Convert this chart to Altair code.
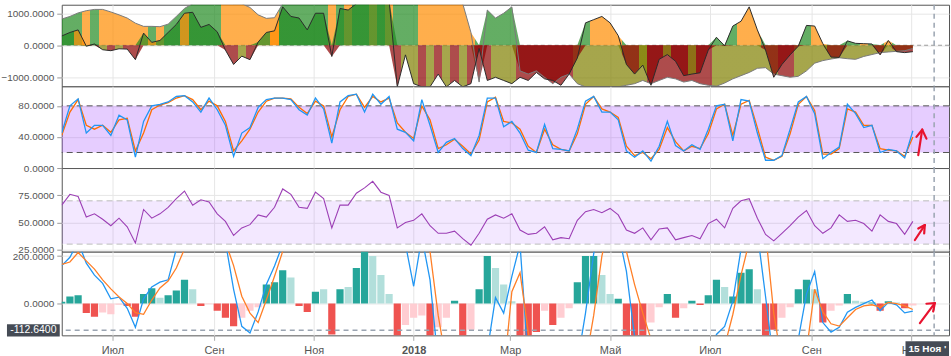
import altair as alt
import pandas as pd

# ---------------- time grid ----------------
START = "2017-05-31"
STEP = "5D"
N = 105
X_MIN = "2017-05-31 00:00"
X_MAX = "2018-11-24 02:00"
CROSS = "2018-11-15"
CROSS_LABEL = "15 Ноя '18"
ARROW_BASE = "2018-11-01"
TICK_START, TICK_END = "2017-07-01", "2018-11-01"
MONTHS_RU = ["Янв", "Фев", "Мар", "Апр", "Май", "Июн", "Июл", "Авг", "Сен", "Окт", "Ноя", "Дек"]

# ---------------- pane 1: two oscillator areas ----------------
osc_a = [820, 900, 1010, 1080, 1120, 1120, 1040, 950, 850, 690,
         590, 590, 580, 660, 900, 1150, 1300, 1350, 1400, 1400,
         1350, 1300, 1300, 1180, 950, 840, 860, 1300, 1400, 1400,
         1400, 1400, 1400, 1400, 1400, 1400, 1400, 1400, 1400, 1400,
         1400, 1400, 1400, 1400, 1400, 1400, 1400, 1400, 1400, 1300,
         400, -1150, 1100, 850, 1000, 1200, -800, -900, -800, -1000,
         -1200, -1000, -900, -1200, -1300, -1300, -1300, -1300, -1300, -1250,
         -1200, -1100, -1200, -1100, -1000, -1050, -1150, -1100, -1200, -1250,
         -1280, -1180, -1050, -950, -850, -720, -700, -900, -950, -1000,
         -970, -800, -560, -480, -430, -390, -420, -440, -350, -290,
         -230, -210, -190, -170, -100]
osc_a_col = list("GGGOGOOOOO" "OGOGGGGGGG" "OOOOOOOGGG" "GGGOGOGGOG" "OGGGOOOOOO"
                 "ORGGGGRRRR" "RRRYYYYYYY" "YYRRRRRRRR" "YYYYYYYYRR" "YYYYYYYYYY" "YYYYY")
osc_b = [290, 400, 480, -30, 40, -140, -170, -110, -120, -450,
         380, 90, 150, 400, 650, 1000, 1030, 560, 650, 420,
         -150, -600, -340, -450, 100, 400, 450, 1200, 900, 850,
         480, 1000, 1000, -350, 1150, 1100, 1300, 1400, 1400, 1400,
         1400, -1300, -300, -1200, -1300, -1300, -900, -1300, -1100, -1300,
         -1200, -100, -1100, -1000, -1100, -1200, -1000, -1100, -850, -1050,
         -1100, -1250, -900, -400, 700, 800, 900, 700, 300, -600,
         -900, -620, -1250, -440, -290, -500, -950, -900, -860, -150,
         250, -20, 600, 750, 1200, 480, -150, -1000, -600, -300,
         -30, 620, 600, 50, -370, -380, 137, 60, 50, 40,
         -300, 150, -200, -230, -200]
osc_b_col = list("GGOYGYRYRR" "GOGGGOGGGG" "RRYRGGOGGG" "GGGRGGGGGG" "GRYYRYRYRY"
                 "RRRYYYRRRR" "RRRRGOOOOR" "RYRRYRRYRR" "GGGOOORRRR" "RGOORRGGOG" "RORRR")

# ---------------- pane 2: stochastic ----------------
stoch_k = [45, 80, 89, 45, 55, 55, 42, 68, 62, 14,
           60, 80, 82, 85, 92, 93, 85, 72, 90, 75,
           55, 15, 45, 52, 78, 88, 90, 90, 88, 75,
           68, 90, 76, 32, 85, 93, 95, 72, 95, 82,
           92, 50, 46, 35, 88, 55, 20, 33, 38, 25,
           16, 42, 90, 90, 53, 60, 45, 23, 20, 56,
           25, 24, 22, 50, 86, 92, 72, 72, 62, 22,
           14, 22, 9, 28, 60, 29, 22, 30, 24, 50,
           80, 82, 35, 88, 86, 45, 10, 10, 16, 50,
           85, 92, 70, 12, 20, 27, 82, 70, 52, 55,
           20, 24, 22, 13, 48]
stoch_d = [42, 72, 88, 55, 50, 55, 46, 62, 64, 22,
           45, 75, 81, 84, 90, 93, 88, 75, 86, 80,
           60, 22, 35, 50, 72, 86, 90, 90, 89, 78,
           70, 86, 80, 40, 75, 92, 95, 78, 92, 85,
           90, 58, 46, 38, 80, 62, 25, 30, 37, 28,
           18, 36, 85, 91, 60, 58, 50, 28, 20, 50,
           30, 24, 22, 44, 82, 92, 76, 72, 65, 28,
           16, 20, 12, 24, 52, 34, 22, 28, 25, 44,
           76, 82, 42, 82, 87, 52, 14, 10, 15, 44,
           82, 92, 74, 18, 18, 25, 76, 72, 55, 55,
           25, 23, 22, 15, 40]
stoch_levels = [20, 80]

# ---------------- pane 3: RSI ----------------
rsi = [66, 76, 74, 55, 58, 53, 47, 54, 46, 31,
       62, 54, 58, 64, 72, 79, 66, 71, 69, 58,
       51, 38, 45, 48, 57, 55, 64, 81, 76, 64,
       63, 78, 72, 45, 66, 66, 77, 82, 88, 78,
       75, 45, 50, 52, 58, 47, 40, 40, 42, 35,
       29, 40, 53, 57, 54, 58, 43, 39, 40, 46,
       34, 36, 35, 52, 60, 62, 59, 63, 57, 43,
       40, 45, 34, 44, 45, 34, 36, 38, 35, 49,
       53, 45, 63, 70, 72, 54, 39, 33, 40, 47,
       55, 61, 47, 40, 45, 57, 51, 52, 49, 42,
       57, 51, 49, 39, 51]
rsi_levels = [30, 70]

# ---------------- pane 4: MACD ----------------
macd_hist = [8, 30, 35, -40, -55, -38, -45, -5, -10, -55,
             40, 65, 25, 35, 55, 100, 60, -10, -3, -30,
             -60, -95, -60, -30, -15, 80, 90, 140, 110, -10,
             -35, 50, 60, -130, 60, 70, 150, 220, 200, 120,
             40, -140, -90, -60, -50, -140, -100, -60, 12, -140,
             -110, 60, 200, 150, 80, 10, -140, -140, -120, -30,
             -90, -60, -20, 90, 200, 200, 120, 40, 20, -140,
             -140, -140, -80, -15, 40, -60, -20, 12, -6, 35,
             100, 70, 30, 130, 145, 60, -140, -110, -60, -15,
             60, 100, 60, -80, -30, -8, 40, 12, 8, 5,
             -30, 10, 5, -20, -8]
macd_hist_col = list("UUUDDdddDD" "UUuUUUuDdD" "DDdddUUUuD" "DUuDUuUUuu" "uDdddDddUD"
                     "dUUuuuDDDd" "DddUUUuuUD" "DDddUDdUDU" "UuUUUuDDdd" "UUuDddUuuU" "DUuDd")
macd_line = [160, 195, 260, 170, 120, 85, 20, 27, -20, -100,
             20, 70, 90, 100, 230, 300, 350, 330, 310, 290,
             260, 60, -96, -124, -35, 80, 158, 250, 320, 350,
             380, 400, 400, 400, 400, 400, 400, 400, 400, 400,
             400, 380, 250, 73, 280, 100, -250, -300, -300, -300,
             -300, -300, -200, 25, -40, 115, 250, -250, -300, -300,
             -300, -300, -300, -250, -40, 210, 350, 400, 300, 136,
             -140, -300, -300, -300, -300, -300, -300, -300, -300, -300,
             -130, -96, 10, 230, 300, 300, 30, -250, -300, -300,
             -150, 40, 135, -80, -120, -100, -36, -16, 0, 15,
             -30, 5, -5, -39, -32]
macd_signal = [165, 175, 215, 180, 145, 100, 62, 28, 0, -38,
               -45, 15, 66, 95, 150, 230, 290, 320, 320, 300,
               260, 160, 31, -40, -80, 15, 115, 220, 280, 300,
               320, 330, 350, 380, 400, 400, 400, 400, 400, 400,
               400, 400, 380, 350, 320, 220, -50, -250, -300, -300,
               -300, -300, -300, -300, -300, 50, 130, -120, -300, -300,
               -300, -300, -300, -300, -250, -50, 200, 350, 350, 220,
               80, -40, -150, -300, -300, -300, -300, -300, -300, -300,
               -300, -180, -46, 120, 260, 300, 300, -40, -250, -300,
               -300, -200, 60, -35, -85, -95, -60, -25, -10, -5,
               -15, 5, 0, -10, -25]
macd_price_label = -112.64
macd_price_text = "-112.6400"

# hand-drawn red arrows: (day offset from ARROW_BASE, value) start -> end
stoch_arrow = [(4.3, 16.7, 6.7, 49.3), (6.7, 49.3, 3.2, 40.0), (6.7, 49.3, 9.3, 37.8)]
rsi_arrow = [(2.25, 33.8, 8.3, 47.6), (8.3, 47.6, 4.3, 44.4), (8.3, 47.6, 7.9, 39.8)]
macd_arrow = [(5.3, -82.2, 14.4, 1.7), (14.4, 1.7, 9.3, -0.8), (14.4, 1.7, 13.4, -33.0)]

# ---------------- helpers ----------------
def ms(ts):
    return int(pd.Timestamp(ts).value // 10**6)

dates = pd.date_range(START, periods=N, freq=STEP)
t_ms = [ms(d) for d in dates]
half = pd.Timedelta(days=2.2)

df = pd.DataFrame({
    "t": t_ms,
    "t0": [ms(d - half) for d in dates],
    "t1": [ms(d + half) for d in dates],
    "a": osc_a, "b": osc_b,
    "a_pos": [max(v, 0) for v in osc_a], "a_neg": [min(v, 0) for v in osc_a],
    "b_pos": [max(v, 0) for v in osc_b], "b_neg": [min(v, 0) for v in osc_b],
    "k": stoch_k, "d": stoch_d, "rsi": rsi,
    "h": macd_hist, "hc": macd_hist_col, "macd": macd_line, "sig": macd_signal,
})

W = 891
H1, H2, H3, H4 = 82, 82, 84, 84
GRID = "#e6e6e6"
LABEL = "#555555"
CROSS_COL = "#9aa4b1"
ARROW_COL = "#e8132f"

tick_ms = [ms(d) for d in pd.date_range(TICK_START, TICK_END, freq="2MS")]
xs = alt.Scale(type="utc", domain=[ms(X_MIN), ms(X_MAX)])
months_js = "[" + ",".join("'%s'" % m for m in MONTHS_RU) + "]"
label_expr = ("utcmonth(datum.value) == 0 ? utcFormat(datum.value, '%Y') : "
              + months_js + "[utcmonth(datum.value)]")

ax_hidden = alt.Axis(values=tick_ms, title=None, grid=True, gridColor=GRID,
                     labels=False, ticks=False, domain=False)
ax_bottom = alt.Axis(values=tick_ms, title=None, grid=True, gridColor=GRID,
                     labelExpr=label_expr, labelFontSize=11, labelColor=LABEL,
                     labelFontWeight={"condition": {"test": "utcmonth(datum.value) == 0", "value": "bold"},
                                      "value": "normal"},
                     tickSize=5, tickColor="#aaaaaa", labelPadding=4, domain=False,
                     labelFlush=False, labelOverlap=False)


def X(field, bottom=False):
    return alt.X(field, type="temporal", scale=xs, axis=ax_bottom if bottom else ax_hidden)


def y_axis(vals):
    return alt.Axis(values=vals, format=".4f", title=None, grid=True, gridColor=GRID,
                    labelFontSize=10, labelColor=LABEL, tickSize=5, tickColor="#999999",
                    labelPadding=3, domain=False, minExtent=60, maxExtent=60, labelFlush=False)


def make_Y(domain, vals):
    sc = alt.Scale(domain=domain, nice=False, zero=False)
    ax = y_axis(vals)

    def Y(field):
        return alt.Y(field, type="quantitative", scale=sc, axis=ax, stack=None)
    return Y


GREEN, ORANGE, RED, OLIVE = "#228b22", "#ff8c00", "#8b0000", "#808000"
POS = {"G": GREEN, "O": ORANGE, "R": GREEN, "Y": ORANGE}
NEG = {"R": RED, "Y": OLIVE, "G": RED, "O": OLIVE}


def gradient(letters, pal):
    n = len(letters)
    stops = []
    for i, c in enumerate(letters):
        a = max(0.0, (i - 0.5) / (n - 1))
        b = min(1.0, (i + 0.5) / (n - 1))
        stops.append(alt.GradientStop(offset=a, color=pal[c]))
        stops.append(alt.GradientStop(offset=b, color=pal[c]))
    return alt.LinearGradient(gradient="linear", stops=stops, x1=0, x2=1, y1=0, y2=0)


cross_df = pd.DataFrame({"t": [ms(CROSS)]})


def cross_rule(bottom=False):
    return alt.Chart(cross_df).mark_rule(color=CROSS_COL, strokeDash=[5, 4], strokeWidth=1.5).encode(
        x=X("t:T", bottom))


def arrow(segs, Y, bottom=False):
    base = pd.Timestamp(ARROW_BASE)
    adf = pd.DataFrame({
        "t0": [ms(base + pd.Timedelta(days=s[0])) for s in segs],
        "v0": [s[1] for s in segs],
        "t1": [ms(base + pd.Timedelta(days=s[2])) for s in segs],
        "v1": [s[3] for s in segs],
    })
    return alt.Chart(adf).mark_rule(color=ARROW_COL, strokeWidth=2.2, strokeCap="round").encode(
        x=X("t0:T", bottom), x2="t1:T", y=Y("v0"), y2="v1")


# ---------------- pane 1 ----------------
Y1 = make_Y([-1285, 1266], [-1000, 0, 1000])
zero_df = pd.DataFrame({"v": [0]})
p1 = alt.layer(
    alt.Chart(zero_df).mark_rule(color="#9a9a9a", strokeDash=[4, 3], strokeWidth=1.2).encode(y=Y1("v")),
    alt.Chart(df).mark_area(color=gradient(osc_a_col, POS), fillOpacity=0.7, clip=True).encode(x=X("t:T"), y=Y1("a_pos")),
    alt.Chart(df).mark_area(color=gradient(osc_a_col, NEG), fillOpacity=0.7, clip=True).encode(x=X("t:T"), y=Y1("a_neg")),
    alt.Chart(df).mark_area(color=gradient(osc_b_col, POS), fillOpacity=0.7, clip=True).encode(x=X("t:T"), y=Y1("b_pos")),
    alt.Chart(df).mark_area(color=gradient(osc_b_col, NEG), fillOpacity=0.7, clip=True).encode(x=X("t:T"), y=Y1("b_neg")),
    alt.Chart(df).mark_line(color="#7a7a7a", strokeWidth=1, clip=True).encode(x=X("t:T"), y=Y1("a")),
    alt.Chart(df).mark_line(color="#2b2b2b", strokeWidth=1, clip=True).encode(x=X("t:T"), y=Y1("b")),
    cross_rule(),
).properties(width=W, height=H1)

# ---------------- pane 2 ----------------
Y2 = make_Y([0, 105], [0, 40, 80])
band2 = pd.DataFrame({"lo": [min(stoch_levels)], "hi": [max(stoch_levels)]})
lv2 = pd.DataFrame({"v": stoch_levels})
p2 = alt.layer(
    alt.Chart(band2).mark_rect(color="#a64dff", opacity=0.28).encode(
        x=alt.value(0), x2=alt.value(W), y=Y2("lo"), y2="hi"),
    alt.Chart(lv2).mark_rule(color="#555555", strokeDash=[6, 4], strokeWidth=1).encode(y=Y2("v")),
    alt.Chart(df).mark_line(color="#ff6d00", strokeWidth=1.3, clip=True).encode(x=X("t:T"), y=Y2("d")),
    alt.Chart(df).mark_line(color="#2196f3", strokeWidth=1.3, clip=True).encode(x=X("t:T"), y=Y2("k")),
    cross_rule(),
    arrow(stoch_arrow, Y2),
).properties(width=W, height=H2)

# ---------------- pane 3 ----------------
Y3 = make_Y([23, 100.3], [25, 50, 75])
band3 = pd.DataFrame({"lo": [min(rsi_levels)], "hi": [max(rsi_levels)]})
lv3 = pd.DataFrame({"v": rsi_levels})
p3 = alt.layer(
    alt.Chart(band3).mark_rect(color="#a64dff", opacity=0.13).encode(
        x=alt.value(0), x2=alt.value(W), y=Y3("lo"), y2="hi"),
    alt.Chart(lv3).mark_rule(color="#bbbbbb", strokeDash=[6, 4], strokeWidth=1).encode(y=Y3("v")),
    alt.Chart(df).mark_line(color="#9c3fb5", strokeWidth=1.1, clip=True).encode(x=X("t:T"), y=Y3("rsi")),
    cross_rule(),
    arrow(rsi_arrow, Y3),
).properties(width=W, height=H3)

# ---------------- pane 4 ----------------
Y4 = make_Y([-133.8, 218.6], [0, 200])
hist_scale = alt.Scale(domain=["U", "u", "D", "d"], range=["#26a69a", "#b2dfdb", "#ef5350", "#ffcdd2"])
lbl = pd.DataFrame({"v": [macd_price_label], "txt": [macd_price_text]})
cross_box = pd.DataFrame({
    "t0": [ms(pd.Timestamp(CROSS) - pd.Timedelta(days=17.5))],
    "t1": [ms(X_MAX)],
    "txt": [CROSS_LABEL],
})
p4 = alt.layer(
    alt.Chart(df).mark_bar(clip=True).encode(
        x=X("t0:T", True), x2="t1:T", y=Y4("h"), y2=alt.Y2Datum(0),
        color=alt.Color("hc:N", scale=hist_scale, legend=None)),
    alt.Chart(lbl).mark_rule(color=CROSS_COL, strokeDash=[5, 4], strokeWidth=1.5).encode(y=Y4("v")),
    alt.Chart(df).mark_line(color="#2196f3", strokeWidth=1.3, clip=True).encode(x=X("t:T", True), y=Y4("macd")),
    alt.Chart(df).mark_line(color="#ff7f27", strokeWidth=1.3, clip=True).encode(x=X("t:T", True), y=Y4("sig")),
    cross_rule(True),
    arrow(macd_arrow, Y4, True),
    alt.Chart(lbl).transform_calculate(lo="datum.v - 26", hi="datum.v + 26").mark_rect(color="#454b55").encode(
        x=alt.value(-55), x2=alt.value(-2), y=Y4("lo:Q"), y2="hi:Q"),
    alt.Chart(lbl).mark_text(color="white", fontSize=10.5, align="center", baseline="middle").encode(
        x=alt.value(-28.5), y=Y4("v"), text="txt:N"),
    alt.Chart(cross_box).mark_rect(color="#454b55").encode(
        x=X("t0:T", True), x2="t1:T", y=alt.value(H4 + 6), y2=alt.value(H4 + 21)),
    alt.Chart(cross_box).mark_text(color="white", fontSize=10, fontWeight="bold", align="left",
                                   baseline="middle", dx=3, limit=42, ellipsis="\u200b").encode(
        x=X("t0:T", True), y=alt.value(H4 + 13.5), text="txt:N"),
).properties(width=W, height=H4)

chart = alt.vconcat(
    p1, p2, p3, p4, spacing=0, bounds="flush",
    padding={"left": 0, "top": 2, "right": 0, "bottom": 0},
).configure(font="Liberation Sans", background="white").configure_view(
    stroke="#555555", strokeWidth=1, fill="white"
).configure_axis(labelFont="Liberation Sans")

chart.save("out.html", embed_options={"renderer": "svg", "actions": False})
